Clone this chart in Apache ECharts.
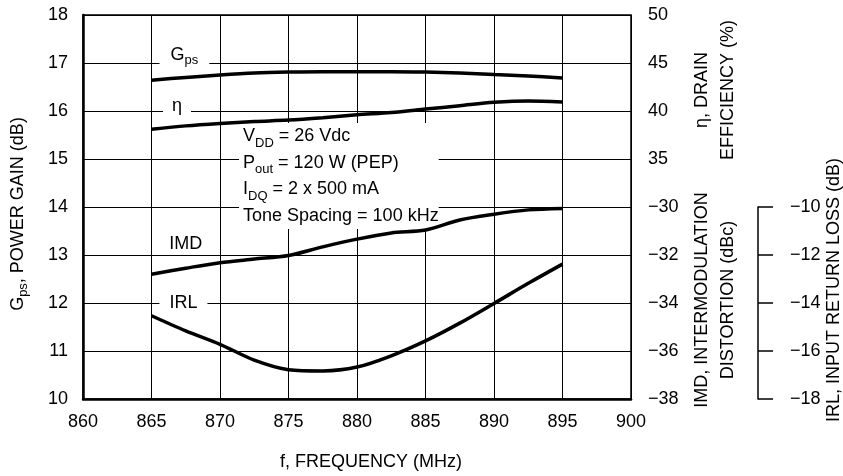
<!DOCTYPE html>
<html><head><meta charset="utf-8">
<script src="https://cdn.jsdelivr.net/npm/echarts@6/dist/echarts.min.js"></script>
<style>html,body{margin:0;padding:0;background:#fff}#c{width:843px;height:476px}</style>
</head><body><div id="c"></div>
<script>
// ---- data ----
const freq = [865, 867.5, 870, 872.5, 875, 877.5, 880, 882.5, 885, 887.5, 890, 892.5, 895];
const gps  = [16.64, 16.70, 16.75, 16.79, 16.81, 16.82, 16.82, 16.82, 16.81, 16.79, 16.76, 16.73, 16.69];
const eta  = [38.1, 38.45, 38.7, 38.9, 39.05, 39.3, 39.6, 39.85, 40.2, 40.55, 40.9, 41.05, 40.95];
const imd  = [-32.8, -32.55, -32.32, -32.17, -32.02, -31.66, -31.34, -31.08, -30.96, -30.54, -30.3, -30.12, -30.06];
const irl  = [-14.53, -15.16, -15.72, -16.38, -16.78, -16.83, -16.67, -16.2, -15.58, -14.84, -14.02, -13.18, -12.38];
const xTicks   = [860, 865, 870, 875, 880, 885, 890, 895, 900];
const gpsTicks = [10, 11, 12, 13, 14, 15, 16, 17, 18];
const etaTicks = [35, 40, 45, 50];
const imdTicks = [-38, -36, -34, -32, -30];
const irlTicks = [-18, -16, -14, -12, -10];

const FONT = "'Liberation Sans',Arial,sans-serif";
const FS = 18, SUBFS = 13;
const rich = {
  a: {fontFamily: FONT, fontSize: FS, lineHeight: 24, color: '#000'},
  s: {fontFamily: FONT, fontSize: SUBFS, lineHeight: 14, verticalAlign: 'bottom', color: '#000'}
};
const minus = v => (v < 0 ? '\u2212' + Math.abs(v) : String(v));
const pairs = arr => freq.map((f, i) => [f, arr[i]]);
const lbl = {fontFamily: FONT, fontSize: FS, color: '#000'};

const chart = echarts.init(document.getElementById('c'), null, {renderer: 'canvas'});
const lineStyle = {color: '#000', width: 3.5};

chart.setOption({
  animation: false,
  backgroundColor: '#fff',
  grid: [
    {left: 83, right: 212, top: 15, bottom: 77, show: true, borderColor: '#000', borderWidth: 1.5, backgroundColor: 'transparent'},
    {left: 83, right: 212, top: 207, bottom: 77, show: false}
  ],
  xAxis: [
    {gridIndex: 0, type: 'value', min: xTicks[0], max: xTicks[xTicks.length - 1], interval: xTicks[1] - xTicks[0],
     axisLine: {show: true, lineStyle: {color: '#000', width: 2.5}}, axisTick: {show: false},
     splitLine: {show: true, lineStyle: {color: '#000', width: 1}},
     axisLabel: Object.assign({margin: 14}, lbl)},
    {gridIndex: 1, type: 'value', min: xTicks[0], max: xTicks[xTicks.length - 1], show: false}
  ],
  yAxis: [
    {gridIndex: 0, type: 'value', position: 'left', min: gpsTicks[0], max: gpsTicks[gpsTicks.length - 1], interval: 1,
     axisLine: {show: true, lineStyle: {color: '#000', width: 2.5}}, axisTick: {show: false},
     splitLine: {show: true, lineStyle: {color: '#000', width: 1}},
     axisLabel: Object.assign({margin: 15}, lbl)},
    {gridIndex: 0, type: 'value', position: 'right', min: 10, max: etaTicks[etaTicks.length - 1], interval: 5,
     axisLine: {show: false}, axisTick: {show: false}, splitLine: {show: false},
     axisLabel: Object.assign({margin: 17, formatter: v => (etaTicks.indexOf(v) >= 0 ? String(v) : '')}, lbl)},
    {gridIndex: 0, type: 'value', position: 'right', min: imdTicks[0], max: -22, interval: 2,
     axisLine: {show: false}, axisTick: {show: false}, splitLine: {show: false},
     axisLabel: Object.assign({margin: 17, formatter: v => (imdTicks.indexOf(v) >= 0 ? minus(v) : '')}, lbl)},
    {gridIndex: 1, type: 'value', position: 'right', offset: 127, min: irlTicks[0], max: irlTicks[irlTicks.length - 1], interval: 2,
     axisLine: {show: true, lineStyle: {color: '#000', width: 1.5}},
     axisTick: {show: true, length: 15, lineStyle: {color: '#000', width: 1.5}},
     splitLine: {show: false},
     axisLabel: Object.assign({margin: 32, formatter: v => minus(v)}, lbl)}
  ],
  series: [
    {name: 'Gps', type: 'line', xAxisIndex: 0, yAxisIndex: 0, data: pairs(gps), smooth: 0.3, showSymbol: false, lineStyle, z: 3},
    {name: 'eta', type: 'line', xAxisIndex: 0, yAxisIndex: 1, data: pairs(eta), smooth: 0.3, showSymbol: false, lineStyle, z: 3},
    {name: 'IMD', type: 'line', xAxisIndex: 0, yAxisIndex: 2, data: pairs(imd), smooth: 0.3, showSymbol: false, lineStyle, z: 3},
    {name: 'IRL', type: 'line', xAxisIndex: 1, yAxisIndex: 3, data: pairs(irl), smooth: 0.3, showSymbol: false, lineStyle, z: 3}
  ]
});

const px = (x, y) => chart.convertToPixel({xAxisIndex: 0, yAxisIndex: 0}, [x, y]);
function label(text, x, y, dy, padX, bg) {
  const p = px(x, y);
  return {type: 'text', x: p[0], y: p[1] + dy, z: 1,
    style: {text, rich, align: 'center', verticalAlign: 'middle', fill: '#000',
            backgroundColor: bg ? '#fff' : 'transparent', padding: [0, padX, 0, padX]}};
}
const ann = px(871.68, 15.6);
const tfont = FS + "px " + FONT;
chart.setOption({
  graphic: {elements: [
    label('{a|G}{s|ps}', 867.4, 17, -8, 11, true),
    label('{a|\u03b7}', 866.86, 16, -5, 9, true),
    label('{a|IMD}', 867.5, 13.22, 0, 0, false),
    label('{a|IRL}', 867.33, 12, 0, 10, true),
    {type: 'text', x: ann[0] - 4, y: 123, z: 1,
     style: {text: '{b|V}{t|DD}{b| = 26 Vdc}\n{b|P}{t|out}{b| = 120 W (PEP)}\n{b|I}{t|DQ}{b| = 2 x 500 mA}\n{b|Tone Spacing = 100 kHz}',
       rich: {b: {fontFamily: FONT, fontSize: FS, lineHeight: 26.5, color: '#000'},
              t: {fontFamily: FONT, fontSize: SUBFS, lineHeight: 16, verticalAlign: 'bottom', color: '#000'}},
       align: 'left', verticalAlign: 'top', backgroundColor: '#fff', padding: [0, 0, 0, 4]}},
    {type: 'text', x: 18, y: 214, rotation: Math.PI / 2, z: 5,
     style: {text: '{a|G}{s|ps}{a|, POWER GAIN (dB)}', rich, align: 'center', verticalAlign: 'middle'}},
    {type: 'text', x: 371, y: 462, z: 5,
     style: {text: 'f, FREQUENCY (MHz)', font: tfont, fill: '#000', align: 'center', verticalAlign: 'middle'}},
    {type: 'text', x: 715, y: 90, rotation: Math.PI / 2, z: 5,
     style: {text: '\u03b7, DRAIN\nEFFICIENCY (%)', font: tfont, lineHeight: 26, fill: '#000', align: 'center', verticalAlign: 'middle'}},
    {type: 'text', x: 715, y: 300, rotation: Math.PI / 2, z: 5,
     style: {text: 'IMD, INTERMODULATION\nDISTORTION (dBc)', font: tfont, lineHeight: 26, fill: '#000', align: 'center', verticalAlign: 'middle'}},
    {type: 'text', x: 834, y: 290, rotation: Math.PI / 2, z: 5,
     style: {text: 'IRL, INPUT RETURN LOSS (dB)', font: tfont, fill: '#000', align: 'center', verticalAlign: 'middle'}}
  ]}
});
</script></body></html>
